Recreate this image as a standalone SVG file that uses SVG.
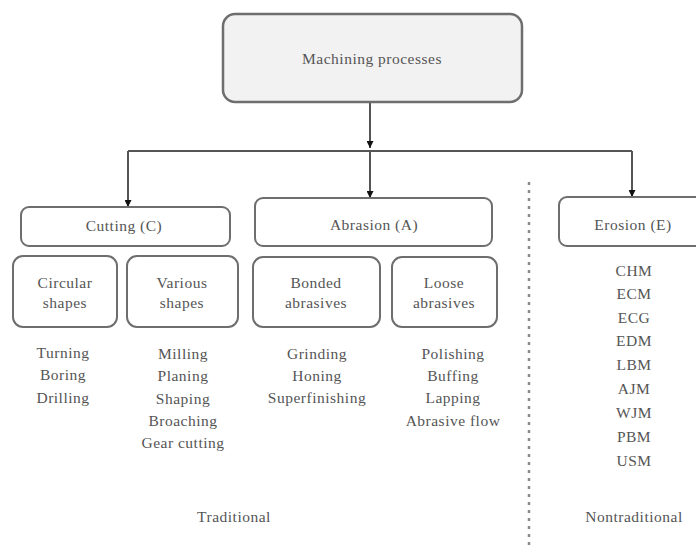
<svg xmlns="http://www.w3.org/2000/svg" width="696" height="546" viewBox="0 0 696 546">
<style>
.box{fill:#fff;stroke:#6e6e6e;stroke-width:2}
.main{fill:#f2f2f2;stroke:#6e6e6e;stroke-width:2.5}
text{font-size:15.5px;fill:#555;text-anchor:middle;letter-spacing:0.5px}
.c{stroke:#555;stroke-width:2;fill:none}
.dash{stroke:#8a8a8a;stroke-width:2.5;stroke-dasharray:3 5;fill:none}
</style>
<defs>
<marker id="ah" viewBox="0 0 10 10" refX="10" refY="5" markerWidth="3.5" markerHeight="3.5" orient="auto" markerUnits="strokeWidth">
<path d="M0,0 L10,5 L0,10 z" fill="#111"/>
</marker>
</defs>
<rect width="696" height="546" fill="#fff"/>
<g id="connectors">
<line class="c" x1="370" y1="103" x2="370" y2="148" marker-end="url(#ah)"/>
<line class="c" x1="128" y1="151" x2="632" y2="151"/>
<line class="c" x1="128" y1="151" x2="128" y2="207" marker-end="url(#ah)"/>
<line class="c" x1="370" y1="151" x2="370" y2="198" marker-end="url(#ah)"/>
<line class="c" x1="632" y1="151" x2="632" y2="197" marker-end="url(#ah)"/>
<line class="dash" x1="529" y1="182" x2="529" y2="546"/>
</g>
<g font-family="'Liberation Serif', 'DejaVu Serif', 'Times New Roman', serif">
<g id="machining"><rect class="main" x="223" y="14" width="299" height="88" rx="12"/><text x="372" y="64">Machining processes</text></g>
<g id="cutting"><rect class="box" x="21" y="207" width="209" height="39" rx="8"/><text x="124" y="231">Cutting (C)</text></g>
<g id="abrasion"><rect class="box" x="255" y="198" width="237" height="48" rx="8"/><text x="374" y="230">Abrasion (A)</text></g>
<g id="erosion"><rect class="box" x="559" y="197" width="150" height="49" rx="8"/><text x="633" y="230">Erosion (E)</text></g>
<g id="circular"><rect class="box" x="13" y="256" width="104" height="71" rx="10"/><text x="65" y="288">Circular</text><text x="65" y="308">shapes</text></g>
<g id="various"><rect class="box" x="127" y="256" width="111" height="71" rx="10"/><text x="182" y="288">Various</text><text x="182" y="308">shapes</text></g>
<g id="bonded"><rect class="box" x="253" y="257" width="127" height="70" rx="10"/><text x="316" y="288">Bonded</text><text x="316" y="308">abrasives</text></g>
<g id="loose"><rect class="box" x="392" y="257" width="105" height="70" rx="10"/><text x="444" y="288">Loose</text><text x="444" y="308">abrasives</text></g>
<g id="circular-list"><text x="63" y="358">Turning</text><text x="63" y="380">Boring</text><text x="63" y="403">Drilling</text></g>
<g id="various-list"><text x="183" y="359">Milling</text><text x="183" y="381">Planing</text><text x="183" y="404">Shaping</text><text x="183" y="426">Broaching</text><text x="183" y="448">Gear cutting</text></g>
<g id="bonded-list"><text x="317" y="359">Grinding</text><text x="317" y="381">Honing</text><text x="317" y="403">Superfinishing</text></g>
<g id="loose-list"><text x="453" y="359">Polishing</text><text x="453" y="381">Buffing</text><text x="453" y="403">Lapping</text><text x="453" y="426">Abrasive flow</text></g>
<g id="erosion-list"><text x="634" y="276">CHM</text><text x="634" y="299">ECM</text><text x="634" y="323">ECG</text><text x="634" y="346">EDM</text><text x="634" y="370">LBM</text><text x="634" y="394">AJM</text><text x="634" y="418">WJM</text><text x="634" y="442">PBM</text><text x="634" y="466">USM</text></g>
<g id="traditional"><text x="234" y="522">Traditional</text></g>
<g id="nontraditional"><text x="634" y="522">Nontraditional</text></g>
</g>
</svg>
